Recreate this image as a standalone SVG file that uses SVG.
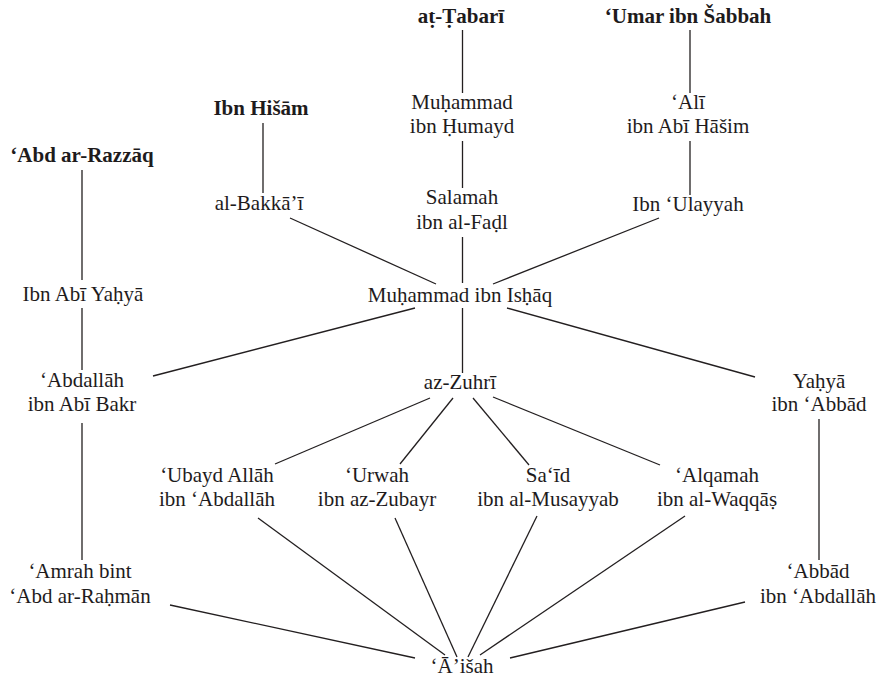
<svg xmlns="http://www.w3.org/2000/svg" width="883" height="679" viewBox="0 0 883 679">
<style>
text{font-family:'Liberation Serif','Times New Roman',serif;font-size:21px;fill:#1e1b1c;text-anchor:middle}
.b{font-weight:bold}
#edges line{stroke:#231f20;stroke-width:1.3}
</style>
<rect width="883" height="679" fill="#fff"/>
<g id="edges">
<line x1="462.5" y1="30" x2="462.5" y2="93"/>
<line x1="462.5" y1="141" x2="462.5" y2="188"/>
<line x1="462.5" y1="237" x2="462.5" y2="283"/>
<line x1="690" y1="30" x2="690" y2="93"/>
<line x1="690" y1="141" x2="690" y2="195"/>
<line x1="263" y1="123" x2="263" y2="193"/>
<line x1="82" y1="170" x2="82" y2="280"/>
<line x1="82" y1="308" x2="82" y2="370"/>
<line x1="82" y1="423" x2="82" y2="560"/>
<line x1="819" y1="419" x2="819" y2="560"/>
<line x1="290" y1="218" x2="436" y2="284"/>
<line x1="659" y1="218" x2="493" y2="284"/>
<line x1="415" y1="308" x2="153" y2="376"/>
<line x1="507" y1="308" x2="755" y2="377"/>
<line x1="462.5" y1="308" x2="462.5" y2="373"/>
<line x1="430" y1="398" x2="275" y2="464"/>
<line x1="453" y1="398" x2="400" y2="464"/>
<line x1="473" y1="398" x2="529" y2="465"/>
<line x1="493" y1="397" x2="660" y2="465"/>
<line x1="258" y1="518" x2="445" y2="655"/>
<line x1="395" y1="518" x2="457" y2="657"/>
<line x1="537" y1="516" x2="468" y2="657"/>
<line x1="685" y1="516" x2="480" y2="655"/>
<line x1="170" y1="605" x2="415" y2="658"/>
<line x1="745" y1="602" x2="510" y2="658"/>
</g>
<g id="tabari"><text class="b" x="461" y="23">aṭ-Ṭabarī</text></g>
<g id="umar"><text class="b" x="688" y="23">‘Umar ibn Šabbah</text></g>
<g id="hisham"><text class="b" x="261" y="115">Ibn Hišām</text></g>
<g id="razzaq"><text class="b" x="82" y="162">‘Abd ar-Razzāq</text></g>
<g id="humayd"><text x="462" y="109">Muḥammad</text><text x="462" y="133">ibn Ḥumayd</text></g>
<g id="ali"><text x="688" y="109">‘Alī</text><text x="688" y="133">ibn Abī Hāšim</text></g>
<g id="salamah"><text x="462" y="204">Salamah</text><text x="462" y="229">ibn al-Faḍl</text></g>
<g id="bakkai"><text x="259" y="210">al-Bakkā’ī</text></g>
<g id="ulayyah"><text x="688" y="211">Ibn ‘Ulayyah</text></g>
<g id="ishaq"><text x="460" y="302">Muḥammad ibn Isḥāq</text></g>
<g id="abiyahya"><text x="83" y="301">Ibn Abī Yaḥyā</text></g>
<g id="abdallah"><text x="82" y="387">‘Abdallāh</text><text x="82" y="411">ibn Abī Bakr</text></g>
<g id="zuhri"><text x="460" y="389">az-Zuhrī</text></g>
<g id="yahya"><text x="819" y="388">Yaḥyā</text><text x="819" y="411">ibn ‘Abbād</text></g>
<g id="ubayd"><text x="217" y="482">‘Ubayd Allāh</text><text x="217" y="506">ibn ‘Abdallāh</text></g>
<g id="urwah"><text x="377" y="482">‘Urwah</text><text x="377" y="506">ibn az-Zubayr</text></g>
<g id="said"><text x="548" y="482">Sa‘īd</text><text x="548" y="506">ibn al-Musayyab</text></g>
<g id="alqamah"><text x="717" y="482">‘Alqamah</text><text x="717" y="506">ibn al-Waqqāṣ</text></g>
<g id="amrah"><text x="80" y="578">‘Amrah bint</text><text x="80" y="603">‘Abd ar-Raḥmān</text></g>
<g id="abbad"><text x="818" y="578">‘Abbād</text><text x="818" y="603">ibn ‘Abdallāh</text></g>
<g id="aisha"><text x="462" y="673">‘Ā’išah</text></g>
</svg>
